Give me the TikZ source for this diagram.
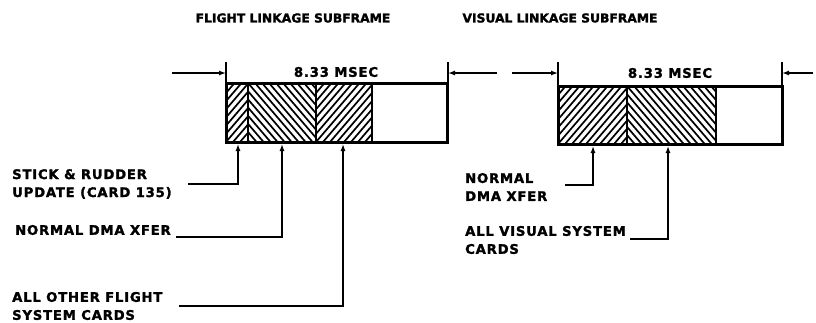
\documentclass[tikz,border=0pt]{standalone}
\usepackage{fontspec}
\setmainfont{DejaVu Sans}
\newfontfamily\lblfont[LetterSpace=6,BoldFeatures={FakeBold=1.6}]{DejaVu Sans}
\newfontfamily\ttlfont[BoldFeatures={FakeBold=1.6}]{DejaVu Sans}
\usetikzlibrary{arrows.meta}
\begin{document}
\begin{tikzpicture}[x=1pt,y=-1pt,
  lbl/.style={font=\lblfont\bfseries\fontsize{13.2}{18}\selectfont, align=left, anchor=west, inner sep=0pt},
  ttl/.style={font=\ttlfont\bfseries\fontsize{12.3}{14}\selectfont, inner sep=0pt},
  lead/.style={line width=1.3pt, -{Latex[length=7pt,width=5pt]}},
  dimarrow/.style={line width=1.3pt, -{Latex[length=7pt,width=5pt]}},
  tick/.style={line width=1.5pt},
  frame/.style={draw, line width=3pt, inner sep=0pt, outer sep=0pt, anchor=north west},
  divider/.style={line width=2.4pt},
  hatch/.style={line width=1.7pt}]
\useasboundingbox (0,0) rectangle (816,322);

% titles
\node[ttl] (t1) at (293,18) {FLIGHT LINKAGE SUBFRAME};
\node[ttl] (t2) at (560,18) {VISUAL LINKAGE SUBFRAME};

% ---------- left frame ----------
\begin{scope}
  \clip (226,83) rectangle (248,142);
  \foreach \i in {-70,-63,...,30} \draw[hatch] (226+\i,142) -- ++(60,-70);
\end{scope}
\begin{scope}
  \clip (248,83) rectangle (316,142);
  \foreach \i in {-70,-63,...,80} \draw[hatch] (248+\i,83) -- ++(60,70);
\end{scope}
\begin{scope}
  \clip (316,83) rectangle (372,142);
  \foreach \i in {-70,-63,...,70} \draw[hatch] (316+\i,142) -- ++(60,-70);
\end{scope}
\draw[divider] (248,83) -- (248,142);
\draw[divider] (316,83) -- (316,142);
\draw[divider] (372,83) -- (372,142);
\node[frame, minimum width=221pt, minimum height=59pt] (b1) at (226,83) {};

% dimension, left frame
\coordinate (d1l) at (226,62);
\coordinate (d1r) at (448,62);
\coordinate (d1la) at (226,73);
\coordinate (d1ra) at (448,73);
\coordinate (d1ls) at (172,73);
\coordinate (d1rs) at (497,73);
\draw[tick] (d1l) -- (d1l |- b1.north);
\draw[tick] (d1r) -- (d1r |- b1.north);
\draw[dimarrow] (d1ls) -- (d1la);
\draw[dimarrow] (d1rs) -- (d1ra);
\node[lbl, anchor=center] (m1) at (336,72) {8.33 MSEC};

% leaders, left frame
\coordinate (a1) at (238,144);
\coordinate (a2) at (282,144);
\coordinate (a3) at (343,144);
\node[lbl] (l1) at (12,184) {STICK \& RUDDER\\UPDATE (CARD 135)};
\node[lbl] (l2) at (15,230) {NORMAL DMA XFER};
\node[lbl] (l3) at (12,306) {ALL OTHER FLIGHT\\SYSTEM CARDS};
\draw[lead] ([xshift=16pt]l1.east) -| (a1);
\draw[lead] ([xshift=5pt,yshift=-7pt]l2.east) -| (a2);
\draw[lead] ([xshift=16pt]l3.east) -| (a3);

% ---------- right frame ----------
\begin{scope}
  \clip (558,86) rectangle (627,144);
  \foreach \i in {-70,-63,...,80} \draw[hatch] (558+\i,144) -- ++(60,-70);
\end{scope}
\begin{scope}
  \clip (627,86) rectangle (716,144);
  \foreach \i in {-70,-63,...,100} \draw[hatch] (627+\i,86) -- ++(60,70);
\end{scope}
\draw[divider] (627,86) -- (627,144);
\draw[divider] (716,86) -- (716,144);
\node[frame, minimum width=224pt, minimum height=58pt] (b2) at (558,86) {};

% dimension, right frame
\coordinate (d2l) at (558,62);
\coordinate (d2r) at (782,62);
\coordinate (d2la) at (558,73);
\coordinate (d2ra) at (782,73);
\coordinate (d2ls) at (512,73);
\coordinate (d2rs) at (813,73);
\draw[tick] (d2l) -- (d2l |- b2.north);
\draw[tick] (d2r) -- (d2r |- b2.north);
\draw[dimarrow] (d2ls) -- (d2la);
\draw[dimarrow] (d2rs) -- (d2ra);
\node[lbl, anchor=center] (m2) at (670,73) {8.33 MSEC};

% leaders, right frame
\coordinate (c1) at (593,146);
\coordinate (c2) at (668,146);
\node[lbl] (r1) at (465,187) {NORMAL\\DMA XFER};
\node[lbl] (r2) at (465,240) {ALL VISUAL SYSTEM\\CARDS};
\draw[lead] ([xshift=18pt,yshift=2pt]r1.east) -| (c1);
\draw[lead] ([xshift=4pt,yshift=1pt]r2.east) -| (c2);
\end{tikzpicture}
\end{document}
